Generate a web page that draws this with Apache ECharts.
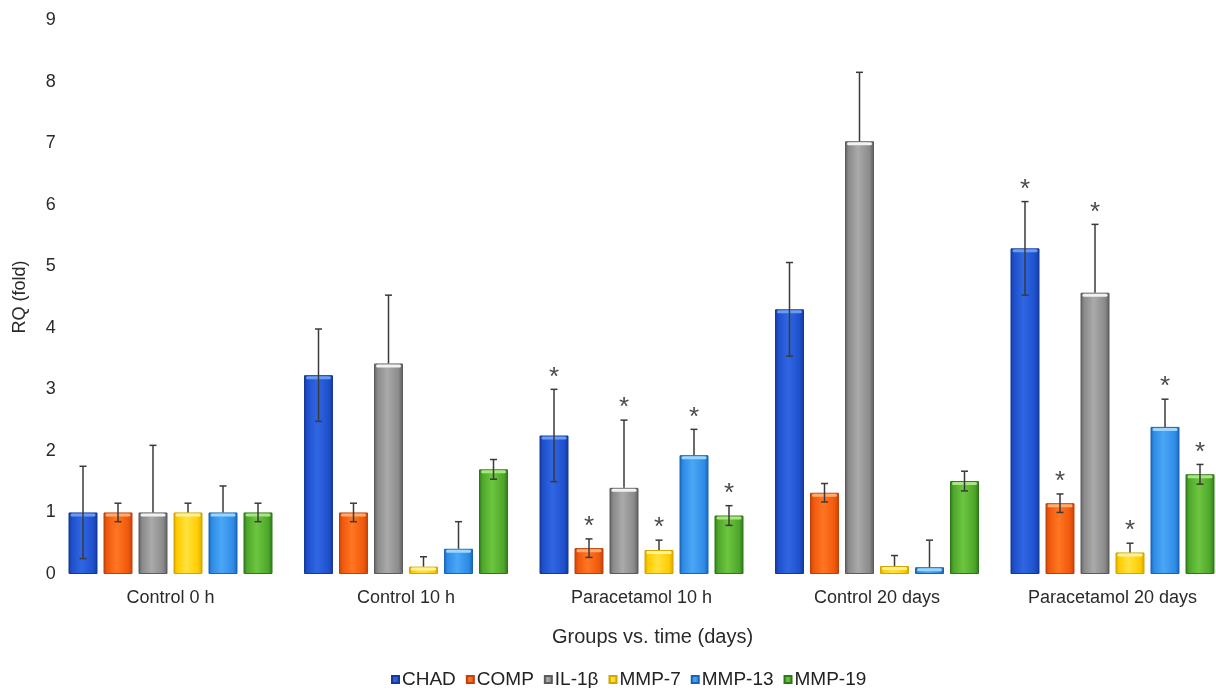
<!DOCTYPE html>
<html>
<head>
<meta charset="utf-8">
<script src="https://cdn.jsdelivr.net/npm/echarts@6/dist/echarts.min.js"></script>
<style>
  html, body { margin: 0; padding: 0; background: #fff; }
  #chart { width: 1216px; height: 688px; }
</style>
</head>
<body>
<div id="chart"></div>
<script>
// data
var groups = ["Control 0 h", "Control 10 h", "Paracetamol 10 h", "Control 20 days", "Paracetamol 20 days"];
var genes = ["CHAD", "COMP", "IL-1β", "MMP-7", "MMP-13", "MMP-19"];

var chad = [1.0, 3.23, 2.25, 4.30, 5.29];
var comp = [1.0, 1.0, 0.42, 1.32, 1.15];
var il1b = [1.0, 3.42, 1.40, 7.03, 4.57];
var mmp7 = [1.0, 0.12, 0.39, 0.13, 0.35];
var mmp13 = [1.0, 0.41, 1.93, 0.11, 2.39];
var mmp19 = [1.0, 1.70, 0.95, 1.51, 1.62];

var chadErr = [0.75, 0.75, 0.75, 0.76, 0.76];
var compErr = [0.15, 0.15, 0.15, 0.15, 0.15];
var il1bErr = [1.09, 1.11, 1.10, 1.12, 1.11];
var mmp7Err = [0.15, 0.16, 0.16, 0.17, 0.15];
var mmp13Err = [0.43, 0.44, 0.42, 0.44, 0.45];
var mmp19Err = [0.15, 0.16, 0.16, 0.16, 0.16];

// 1 = asterisk over every bar of the group
var sig = [0, 0, 1, 0, 1];

var values = [chad, comp, il1b, mmp7, mmp13, mmp19];
var errors = [chadErr, compErr, il1bErr, mmp7Err, mmp13Err, mmp19Err];
// error bars that also go below the top of the bar
var bothWays = [true, true, false, false, false, true];

var palette = [
  { dark: "#15389a", mid: "#1f50cc", light: "#3066e2", top: "#6a9cf4" },
  { dark: "#bf420a", mid: "#f0580c", light: "#ff7622", top: "#ffac70" },
  { dark: "#5c5c5c", mid: "#8a8a8a", light: "#aaaaaa", top: "#f2f2f2" },
  { dark: "#d6a400", mid: "#ffcc00", light: "#ffe23e", top: "#fff39a" },
  { dark: "#1a64b6", mid: "#2e8ce6", light: "#4aa6f6", top: "#9ad6ff" },
  { dark: "#2e7819", mid: "#4ea72b", light: "#6dc53f", top: "#a8e680" }
];

var barW = 29, barGapPx = 6;
function offset(i) {
  var total = genes.length * barW + (genes.length - 1) * barGapPx;
  return -total / 2 + barW / 2 + i * (barW + barGapPx);
}

function grad(c) {
  return new echarts.graphic.LinearGradient(0, 0, 1, 0, [
    { offset: 0, color: c.dark },
    { offset: 0.12, color: c.mid },
    { offset: 0.45, color: c.light },
    { offset: 0.85, color: c.mid },
    { offset: 1, color: c.dark }
  ]);
}

var series = [];
genes.forEach(function (g, i) {
  series.push({
    name: g,
    type: "bar",
    data: values[i],
    barWidth: barW,
    barGap: (barGapPx / barW * 100) + "%",
    itemStyle: { color: grad(palette[i]), borderColor: palette[i].dark, borderWidth: 1 },
    emphasis: { disabled: true }
  });
});

genes.forEach(function (g, i) {
  series.push({
    type: "custom",
    z: 10,
    silent: true,
    data: groups.map(function (name, k) { return [k, values[i][k], errors[i][k], sig[k]]; }),
    renderItem: function (params, api) {
      var k = api.value(0), v = api.value(1), e = api.value(2), s = api.value(3);
      var x = api.coord([k, 0])[0] + offset(i);
      var yTop = api.coord([k, v])[1];
      var yHi = api.coord([k, v + e])[1];
      var yLo = api.coord([k, v - e])[1];
      var errStyle = { stroke: "#3a3a3a", lineWidth: 1.5 };
      var kids = [
        {
          type: "rect",
          shape: { x: x - barW / 2 + 2, y: yTop + 1, width: barW - 4, height: 3, r: 1.5 },
          style: { fill: palette[i].top }
        },
        { type: "line", shape: { x1: x, y1: yHi, x2: x, y2: bothWays[i] ? yLo : yTop }, style: errStyle },
        { type: "line", shape: { x1: x - 3.5, y1: yHi, x2: x + 3.5, y2: yHi }, style: errStyle }
      ];
      if (bothWays[i]) {
        kids.push({ type: "line", shape: { x1: x - 3.5, y1: yLo, x2: x + 3.5, y2: yLo }, style: errStyle });
      }
      if (s) {
        kids.push({
          type: "text",
          x: x,
          y: yHi - 12,
          style: {
            text: "*", fill: "#4a4a4a", fontSize: 26,
            fontFamily: "Liberation Sans", align: "center", verticalAlign: "middle"
          }
        });
      }
      return { type: "group", children: kids };
    }
  });
});

var option = {
  animation: false,
  backgroundColor: "#fff",
  legend: {
    data: genes,
    top: 665,
    left: 386,
    itemWidth: 7,
    itemHeight: 7,
    itemGap: 10,
    icon: "rect",
    textStyle: { fontSize: 19, color: "#222", fontFamily: "Liberation Sans", padding: [0, 0, 0, -2] }
  },
  grid: { left: 52.75, width: 1177.5, top: 20, bottom: 114, outerBoundsMode: "none" },
  xAxis: {
    type: "category",
    data: groups,
    axisLine: { show: false },
    axisTick: { show: false },
    axisLabel: { fontSize: 18, color: "#2a2a2a", fontFamily: "Liberation Sans", margin: 15 },
    name: "Groups vs. time (days)",
    nameLocation: "middle",
    nameGap: 53,
    nameTextStyle: { fontSize: 20, color: "#2a2a2a", fontFamily: "Liberation Sans", padding: [0, 0, 0, 22] }
  },
  yAxis: {
    type: "value",
    min: 0,
    max: 9,
    interval: 1,
    splitLine: { show: false },
    axisLine: { show: false },
    axisTick: { show: false },
    axisLabel: { fontSize: 18, color: "#2a2a2a", fontFamily: "Liberation Sans", margin: -3 },
    name: "RQ (fold)",
    nameLocation: "middle",
    nameRotate: 90,
    nameGap: 24,
    nameTextStyle: { fontSize: 18, color: "#2a2a2a", fontFamily: "Liberation Sans" }
  },
  series: series
};

var myChart = echarts.init(document.getElementById("chart"));
myChart.setOption(option);
</script>
</body>
</html>
